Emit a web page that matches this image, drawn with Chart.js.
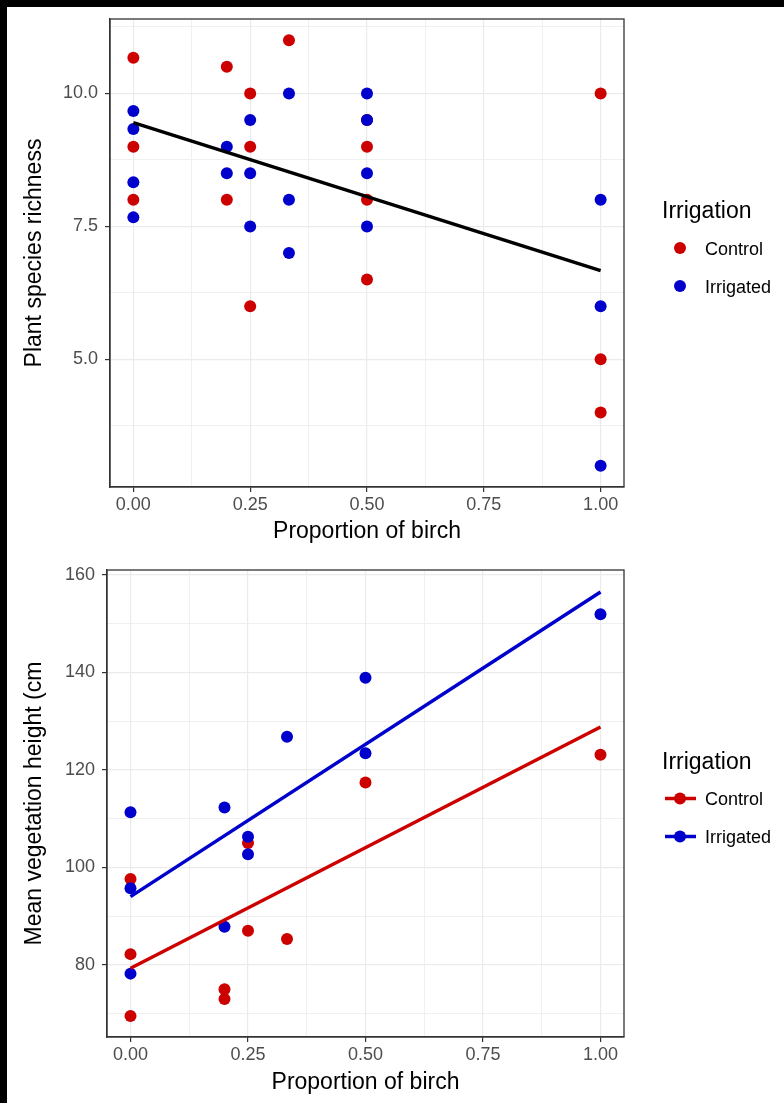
<!DOCTYPE html>
<html>
<head>
<meta charset="utf-8">
<script src="https://cdn.jsdelivr.net/npm/chart.js@4.4.1/dist/chart.umd.min.js"></script>
<style>
  html, body { margin: 0; padding: 0; background: #000; }
  #page { position: absolute; left: 7px; top: 7px; width: 777px; height: 1096px; background: #fff; }
  canvas { position: absolute; left: 0; }
  #topChart { top: 0; }
  #bottomChart { top: 545px; }
</style>
</head>
<body>
<div id="page">
  <canvas id="topChart" width="777" height="545"></canvas>
  <canvas id="bottomChart" width="777" height="551"></canvas>
</div>
<script>
// groups
const groups = ["Control", "Irrigated"];

// x axis (shared)
const xMajor = [0, 0.25, 0.5, 0.75, 1];
const xMinor = [0.125, 0.375, 0.625, 0.875];
const xLabels = ["0.00", "0.25", "0.50", "0.75", "1.00"];

// top panel: plant species richness
const richControlX = [0, 0, 0, 0.2, 0.2, 0.25, 0.25, 0.25, 0.333, 0.5, 0.5, 0.5, 0.5, 1, 1, 1];
const richControlY = [10.67, 9, 8, 10.5, 8, 10, 9, 6, 11, 9.5, 9, 8, 6.5, 10, 5, 4];
const richIrrigX = [0, 0, 0, 0, 0.2, 0.2, 0.25, 0.25, 0.25, 0.333, 0.333, 0.333, 0.5, 0.5, 0.5, 0.5, 1, 1, 1];
const richIrrigY = [9.67, 9.33, 8.33, 7.67, 9, 8.5, 9.5, 8.5, 7.5, 10, 8, 7, 10, 9.5, 8.5, 7.5, 8, 6, 3];
const richFitX = [0, 1];
const richFitY = [9.45, 6.67];
const richYMajor = [5, 7.5, 10];
const richYMinor = [3.75, 6.25, 8.75, 11.25];
const richYLabels = ["5.0", "7.5", "10.0"];

// bottom panel: mean vegetation height
const heightControlX = [0, 0, 0, 0.2, 0.2, 0.25, 0.25, 0.333, 0.5, 1];
const heightControlY = [97.6, 82.2, 69.5, 75.0, 73.0, 105.0, 87.0, 85.3, 117.4, 123.1];
const heightIrrigX = [0, 0, 0, 0.2, 0.2, 0.25, 0.25, 0.333, 0.5, 0.5, 1];
const heightIrrigY = [111.3, 95.7, 78.2, 112.3, 87.8, 106.3, 102.7, 126.8, 138.9, 123.4, 151.9];
const heightFitX = [0, 1];
const heightFitControlY = [79.3, 128.8];
const heightFitIrrigY = [94.0, 156.5];
const heightYMajor = [80, 100, 120, 140, 160];
const heightYMinor = [70, 90, 110, 130, 150];
const heightYLabels = ["80", "100", "120", "140", "160"];

const RED = "#CD0000";
const BLUE = "#0000CD";
const FONT = '"Liberation Sans", Arial, sans-serif';

Chart.defaults.font.family = FONT;

function pts(xs, ys) {
  return xs.map((x, i) => ({ x: x, y: ys[i] }));
}

function isIn(list, v) {
  return list.some(m => Math.abs(m - v) < 1e-9);
}

// panel border drawn round the plot area
const framePlugin = {
  id: "frame",
  beforeDatasetsDraw(chart) {
    const a = chart.chartArea, ctx = chart.ctx;
    ctx.save();
    ctx.strokeStyle = "#333333";
    ctx.lineWidth = 1.3;
    ctx.strokeRect(a.left, a.top, a.right - a.left, a.bottom - a.top);
    ctx.restore();
  }
};

// ggplot-like legend at the right
const sideLegend = {
  id: "sideLegend",
  afterDraw(chart, args, opts) {
    const ctx = chart.ctx, a = chart.chartArea;
    const cy = (a.top + a.bottom) / 2;
    ctx.save();
    ctx.fillStyle = "#000";
    ctx.textAlign = "left";
    ctx.textBaseline = "alphabetic";
    ctx.font = "23px " + FONT;
    ctx.fillText(opts.title, a.right + 38, cy - 35);
    ctx.font = "18px " + FONT;
    opts.items.forEach((label, i) => {
      const ky = cy - 5 + i * 38;
      const col = opts.colors[i];
      if (opts.withLine) {
        ctx.strokeStyle = col;
        ctx.lineWidth = 3.5;
        ctx.beginPath();
        ctx.moveTo(a.right + 41, ky);
        ctx.lineTo(a.right + 72, ky);
        ctx.stroke();
      }
      ctx.fillStyle = col;
      ctx.beginPath();
      ctx.arc(a.right + 56, ky, 6, 0, Math.PI * 2);
      ctx.fill();
      ctx.fillStyle = "#000";
      ctx.fillText(label, a.right + 81, ky + 6.5);
    });
    ctx.restore();
  }
};

function axis(opts) {
  const all = opts.major.concat(opts.minor).sort((a, b) => a - b);
  return {
    type: "linear",
    position: opts.position,
    min: opts.min,
    max: opts.max,
    afterBuildTicks: (scale) => { scale.ticks = all.map(v => ({ value: v })); },
    afterFit: (scale) => {
      if (opts.position === "left") scale.width = opts.size; else scale.height = opts.size;
      scale.paddingTop = 0; scale.paddingBottom = 0;
      scale.paddingLeft = 0; scale.paddingRight = 0;
    },
    grid: {
      color: (c) => isIn(opts.major, c.tick.value) ? "#EBEBEB" : "#EEEEEE",
      lineWidth: (c) => isIn(opts.major, c.tick.value) ? 1.2 : 0.9,
      drawTicks: true,
      tickLength: 5,
      tickWidth: 1.2,
      tickColor: (c) => isIn(opts.major, c.tick.value) ? "#333333" : "rgba(0,0,0,0)"
    },
    border: { display: true, color: "#333333", width: 1.3 },
    ticks: {
      autoSkip: false,
      maxRotation: 0,
      padding: opts.position === "left" ? 7 : 2,
      color: "#4D4D4D",
      font: { size: 18 },
      callback: (v) => {
        const i = opts.major.findIndex(m => Math.abs(m - v) < 1e-9);
        return i >= 0 ? opts.labels[i] : "";
      }
    },
    title: {
      display: true,
      text: opts.title,
      color: "#000",
      font: { size: 23 },
      padding: opts.position === "left" ? { top: 14, bottom: 0 } : { top: 0, bottom: 7 }
    }
  };
}

function pointSet(label, data, color) {
  return { label: label, data: data, backgroundColor: color, borderWidth: 0, pointRadius: 6, showLine: false };
}

function fitSet(label, data, color) {
  return { label: label, data: data, borderColor: color, borderWidth: 3.5, pointRadius: 0, showLine: true, fill: false };
}

function baseOptions(pad, xSize, ySize, yOpts, legend) {
  return {
    responsive: false,
    animation: false,
    devicePixelRatio: 1,
    events: [],
    layout: { padding: pad },
    scales: {
      x: axis({ position: "bottom", min: -0.05, max: 1.05, major: xMajor, minor: xMinor, labels: xLabels, size: xSize, title: "Proportion of birch" }),
      y: axis(Object.assign({ position: "left", size: ySize }, yOpts))
    },
    plugins: { legend: { display: false }, tooltip: { enabled: false }, sideLegend: legend }
  };
}

new Chart(document.getElementById("topChart"), {
  type: "scatter",
  data: {
    datasets: [
      fitSet("fit", pts(richFitX, richFitY), "#000000"),
      pointSet(groups[1], pts(richIrrigX, richIrrigY), BLUE),
      pointSet(groups[0], pts(richControlX, richControlY), RED)
    ]
  },
  options: baseOptions({ left: 0, top: 12, right: 160, bottom: 0 }, 65, 103,
    { min: 2.6, max: 11.4, major: richYMajor, minor: richYMinor, labels: richYLabels, title: "Plant species richness" },
    { title: "Irrigation", items: groups, colors: [RED, BLUE], withLine: false }),
  plugins: [framePlugin, sideLegend]
});

new Chart(document.getElementById("bottomChart"), {
  type: "scatter",
  data: {
    datasets: [
      fitSet(groups[1] + " fit", pts(heightFitX, heightFitIrrigY), BLUE),
      fitSet(groups[0] + " fit", pts(heightFitX, heightFitControlY), RED),
      pointSet(groups[1], pts(heightIrrigX, heightIrrigY), BLUE),
      pointSet(groups[0], pts(heightControlX, heightControlY), RED)
    ]
  },
  options: baseOptions({ left: 0, top: 18, right: 160, bottom: 0 }, 66, 100,
    { min: 65.2, max: 161, major: heightYMajor, minor: heightYMinor, labels: heightYLabels, title: "Mean vegetation height (cm" },
    { title: "Irrigation", items: groups, colors: [RED, BLUE], withLine: true }),
  plugins: [framePlugin, sideLegend]
});
</script>
</body>
</html>
